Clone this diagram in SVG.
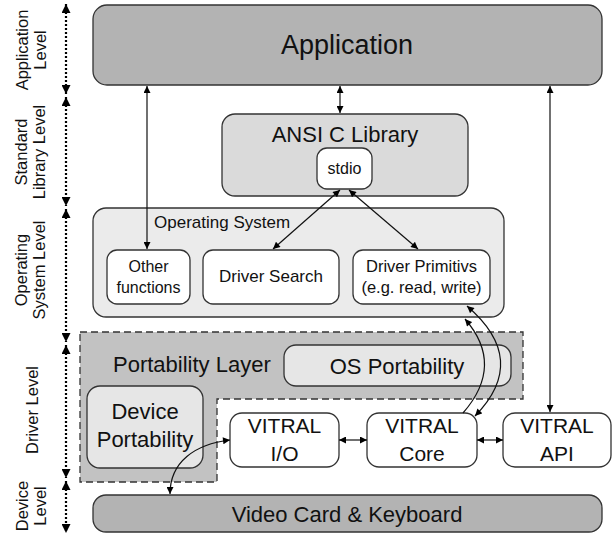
<svg xmlns="http://www.w3.org/2000/svg" width="613" height="535" viewBox="0 0 613 535">
<defs>
<marker id="ah" viewBox="0 0 10 10" refX="10" refY="5" markerWidth="8" markerHeight="7" markerUnits="userSpaceOnUse" orient="auto-start-reverse"><path d="M0,0 L10,5 L0,10 z" fill="#000"/></marker>
<marker id="lh" viewBox="0 0 10 10" refX="10" refY="5" markerWidth="11" markerHeight="9" markerUnits="userSpaceOnUse" orient="auto-start-reverse"><path d="M0,0 L10,5 L0,10 z" fill="#000"/></marker>
</defs>
<style>
text{font-family:"Liberation Sans",Arial,sans-serif;fill:#111;}
.box{stroke:#333;stroke-width:1.3;}
.c{text-anchor:middle;}
.con{fill:none;stroke:#111;stroke-width:1.2;marker-start:url(#ah);marker-end:url(#ah);}
.one{fill:none;stroke:#111;stroke-width:1.2;marker-end:url(#ah);}
.lvl{fill:none;stroke:#000;stroke-width:2.2;stroke-dasharray:2 2;marker-start:url(#lh);marker-end:url(#lh);}
.lab{font-size:16.5px;text-anchor:middle;}
</style>

<g id="levels">
<line class="lvl" x1="66" y1="4" x2="66" y2="94"/>
<line class="lvl" x1="66" y1="97" x2="66" y2="206"/>
<line class="lvl" x1="66" y1="209" x2="66" y2="342"/>
<line class="lvl" x1="66" y1="345" x2="66" y2="478"/>
<line class="lvl" x1="66" y1="481" x2="66" y2="533"/>
<text class="lab" transform="translate(28,50) rotate(-90)">Application</text>
<text class="lab" transform="translate(46,50) rotate(-90)">Level</text>
<text class="lab" transform="translate(27,152) rotate(-90)">Standard</text>
<text class="lab" transform="translate(45,152) rotate(-90)">Library Level</text>
<text class="lab" transform="translate(27,270) rotate(-90)">Operating</text>
<text class="lab" transform="translate(45,270) rotate(-90)">System Level</text>
<text class="lab" transform="translate(38,410) rotate(-90)">Driver Level</text>
<text class="lab" transform="translate(28,506) rotate(-90)">Device</text>
<text class="lab" transform="translate(46,506) rotate(-90)">Level</text>
</g>

<g id="application">
<rect class="box" x="93" y="5" width="509" height="80" rx="14" fill="#b3b3b3"/>
<text class="c" x="347" y="54" font-size="27">Application</text>
</g>

<g id="ansi">
<rect class="box" x="222" y="114" width="246" height="82" rx="13" fill="#dadada"/>
<text class="c" x="345" y="142" font-size="22">ANSI C Library</text>
</g>
<g id="stdio">
<rect class="box" x="317" y="148" width="55" height="41" rx="10" fill="#fff"/>
<text class="c" x="344.5" y="174" font-size="16">stdio</text>
</g>

<g id="os">
<rect class="box" x="93" y="208" width="411" height="109" rx="13" fill="#ebebeb"/>
<text x="154" y="228" font-size="17">Operating System</text>
</g>
<g id="other">
<rect class="box" x="107" y="250" width="83" height="54" rx="10" fill="#fff"/>
<text class="c" x="148.5" y="272" font-size="16">Other</text>
<text class="c" x="148.5" y="293" font-size="16">functions</text>
</g>
<g id="search">
<rect class="box" x="203" y="250" width="136" height="54" rx="10" fill="#fff"/>
<text class="c" x="271" y="282" font-size="17">Driver Search</text>
</g>
<g id="primitivs">
<rect class="box" x="353" y="250" width="137" height="54" rx="10" fill="#fff"/>
<text class="c" x="421.5" y="272" font-size="16.5">Driver Primitivs</text>
<text class="c" x="421.5" y="293" font-size="16.5">(e.g. read, write)</text>
</g>

<g id="portability-layer">
<path d="M80,332 H523 V399 H217 V482 H80 Z" fill="#c2c2c2" stroke="#333" stroke-width="1.3" stroke-dasharray="7 4"/>
<text x="113" y="372" font-size="22">Portability Layer</text>
</g>
<g id="os-portability">
<rect class="box" x="284" y="345" width="227" height="41" rx="12" fill="#e6e6e6"/>
<text class="c" x="397" y="374" font-size="22">OS Portability</text>
</g>
<g id="device-portability">
<rect class="box" x="87" y="386" width="116" height="82" rx="13" fill="#e6e6e6"/>
<text class="c" x="145" y="419" font-size="22">Device</text>
<text class="c" x="145" y="447" font-size="22">Portability</text>
</g>

<g id="vitral-io">
<rect class="box" x="230" y="413" width="109" height="54" rx="12" fill="#fff"/>
<text class="c" x="284.5" y="433" font-size="21">VITRAL</text>
<text class="c" x="284.5" y="461" font-size="21">I/O</text>
</g>
<g id="vitral-core">
<rect class="box" x="367" y="413" width="110" height="54" rx="12" fill="#fff"/>
<text class="c" x="422" y="433" font-size="21">VITRAL</text>
<text class="c" x="422" y="461" font-size="21">Core</text>
</g>
<g id="vitral-api">
<rect class="box" x="503" y="413" width="108" height="54" rx="12" fill="#fff"/>
<text class="c" x="557" y="433" font-size="21">VITRAL</text>
<text class="c" x="557" y="461" font-size="21">API</text>
</g>

<g id="video">
<rect class="box" x="93" y="495" width="509" height="37" rx="13" fill="#b3b3b3"/>
<text class="c" x="347" y="522" font-size="22">Video Card &amp; Keyboard</text>
</g>

<g id="connectors">
<line class="con" x1="147" y1="86" x2="147" y2="249"/>
<line class="con" x1="340" y1="86" x2="340" y2="113"/>
<line class="con" x1="550" y1="86" x2="550" y2="412"/>
<line class="con" x1="340" y1="190" x2="273" y2="249"/>
<line class="con" x1="349" y1="190" x2="418" y2="249"/>
<line class="con" x1="339" y1="440" x2="367" y2="440"/>
<line class="con" x1="477" y1="440" x2="503" y2="440"/>
<path class="one" d="M463,413 Q505,365 465,319"/>
<path class="con" d="M467,306 Q530,360 475,416"/>
<path class="con" d="M230,440 C195,444 170,462 170,494"/>
</g>
</svg>
